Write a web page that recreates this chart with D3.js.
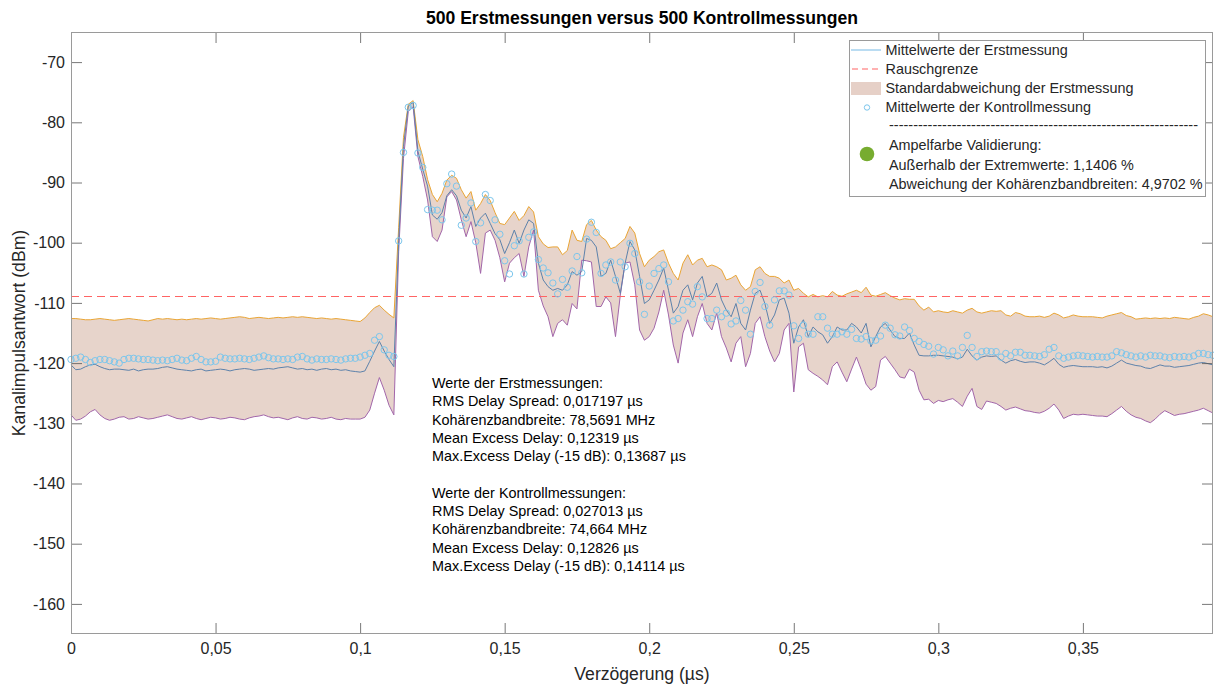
<!DOCTYPE html>
<html><head><meta charset="utf-8">
<script src="https://cdn.jsdelivr.net/npm/d3@7"></script>
<style>
body{margin:0;background:#fff;}
text{font-family:"Liberation Sans",Arial,Helvetica,sans-serif;}
</style>
</head><body>
<svg id="chart" width="1214" height="684"></svg>
<script>
// sample spacing of the delay axis (µs)
const sampleStep = 1/600;
const xDomain = [0, 0.395];
const yDomain = [-165, -65];
const xTicks = [0, 0.05, 0.1, 0.15, 0.2, 0.25, 0.3, 0.35];
const yTicks = [-70, -80, -90, -100, -110, -120, -130, -140, -150, -160];
const noiseFloor = -108.8;

// Mittelwerte der Erstmessung (dBm)
const meanErst = [
-120.3,-121.1,-121.0,-120.6,-120.3,-120.2,-120.6,-120.9,-121.1,-121.0,
-121.0,-121.1,-121.2,-121.0,-121.3,-121.1,-121.0,-121.0,-120.9,-120.7,
-120.6,-120.8,-121.0,-121.1,-121.2,-121.3,-121.1,-121.0,-121.3,-121.2,
-121.1,-121.0,-121.1,-121.3,-121.1,-121.0,-120.9,-121.0,-121.2,-121.1,
-121.0,-120.9,-121.0,-120.8,-120.7,-120.6,-120.8,-121.0,-120.9,-121.1,
-121.0,-121.2,-121.0,-120.9,-121.1,-121.0,-121.2,-121.1,-121.3,-121.4,
-121.5,-121.3,-119.7,-118.0,-116.4,-118.0,-119.4,-120.6,-99.6,-84.0,
-77.3,-76.7,-84.8,-87.8,-90.6,-95.4,-96.1,-95.0,-92.2,-91.2,
-92.2,-94.6,-95.9,-94.0,-97.3,-95.9,-95.1,-96.8,-98.5,-99.5,
-101.8,-100.0,-97.9,-100.1,-97.9,-96.2,-96.8,-103.4,-106.2,-107.3,
-107.9,-107.6,-107.9,-107.0,-104.8,-105.4,-104.8,-99.3,-99.6,-100.7,
-105.6,-105.1,-102.9,-105.6,-108.4,-103.4,-99.8,-101.2,-105.6,-110.1,
-109.5,-107.9,-106.2,-104.2,-107.9,-111.7,-110.6,-107.9,-107.0,-109.5,
-106.7,-105.6,-109.0,-108.4,-106.7,-109.5,-111.2,-112.3,-110.1,-113.4,
-114.5,-111.2,-108.4,-107.9,-110.1,-113.4,-112.0,-109.5,-109.2,-111.7,
-116.7,-114.0,-112.8,-115.6,-114.0,-114.8,-115.3,-116.7,-115.6,-114.0,
-114.5,-114.5,-113.4,-114.0,-115.0,-113.4,-117.3,-115.6,-114.0,-113.4,
-114.5,-115.6,-115.9,-115.9,-115.0,-117.0,-118.7,-118.8,-118.8,-118.7,
-118.7,-118.8,-118.9,-119.0,-119.3,-119.0,-117.7,-118.8,-119.5,-119.0,
-118.8,-118.9,-118.8,-119.5,-120.0,-119.6,-119.4,-119.7,-119.9,-119.8,
-119.8,-120.0,-120.3,-119.8,-119.2,-120.2,-120.7,-120.5,-120.4,-120.5,
-120.6,-120.6,-120.6,-120.7,-120.6,-120.8,-120.5,-120.0,-119.5,-120.0,
-120.2,-120.4,-120.5,-120.8,-120.9,-120.6,-120.3,-120.5,-120.5,-120.7,
-120.6,-120.5,-120.4,-120.2,-120.0,-119.9,-120.1,-120.3
];

// obere Grenze der Standardabweichung (dBm)
const upperStd = [
-112.6,-112.6,-112.7,-112.8,-112.8,-112.7,-112.6,-112.7,-112.8,-112.9,
-112.8,-112.7,-112.6,-112.7,-112.8,-112.9,-113.0,-112.8,-112.6,-112.7,
-112.6,-112.7,-112.8,-112.7,-112.8,-112.7,-112.6,-112.7,-112.6,-112.5,
-112.6,-112.7,-112.6,-112.5,-112.4,-112.3,-112.4,-112.6,-112.5,-112.4,
-112.5,-112.6,-112.5,-112.4,-112.5,-112.4,-112.3,-112.4,-112.3,-112.4,
-112.5,-112.6,-112.5,-112.6,-112.7,-112.6,-112.7,-112.8,-112.9,-113.0,
-113.1,-112.5,-111.6,-110.8,-110.4,-111.2,-111.9,-112.5,-97.5,-82.5,
-77.0,-76.4,-82.9,-85.7,-89.5,-92.0,-93.2,-91.8,-89.6,-88.8,
-89.3,-91.2,-92.6,-91.5,-94.6,-93.5,-92.0,-93.0,-95.0,-96.8,
-97.0,-95.9,-94.8,-96.3,-95.5,-94.0,-94.9,-99.0,-100.2,-100.8,
-100.7,-100.7,-102.0,-101.3,-97.9,-99.6,-99.8,-97.0,-96.3,-97.9,
-99.0,-99.6,-101.0,-100.7,-100.0,-99.3,-97.3,-98.4,-101.8,-104.0,
-102.9,-102.3,-101.5,-101.2,-103.4,-105.1,-106.2,-103.4,-102.0,-103.7,
-102.9,-102.6,-104.0,-103.7,-104.0,-104.5,-106.2,-105.9,-105.4,-107.0,
-107.9,-107.3,-104.5,-104.0,-105.1,-105.6,-105.6,-105.9,-106.7,-106.2,
-107.9,-107.6,-108.4,-109.0,-108.6,-109.0,-108.8,-109.0,-108.1,-108.7,
-108.9,-108.5,-108.2,-107.9,-108.3,-107.4,-108.7,-108.9,-108.6,-108.3,
-108.8,-109.2,-109.5,-109.3,-109.4,-109.4,-110.5,-111.2,-110.7,-111.5,
-111.3,-111.5,-111.6,-111.3,-111.5,-111.7,-111.2,-110.9,-111.5,-111.7,
-111.5,-111.3,-111.4,-111.3,-112.0,-112.2,-111.6,-111.8,-112.2,-112.3,
-112.3,-112.2,-112.4,-112.2,-111.7,-112.0,-112.5,-112.3,-112.0,-112.2,
-112.3,-112.3,-112.3,-112.4,-112.5,-112.2,-112.0,-111.8,-111.6,-112.1,
-112.3,-112.7,-112.6,-112.5,-112.6,-112.5,-112.6,-112.5,-112.6,-112.4,
-112.5,-112.6,-112.7,-112.4,-112.2,-111.8,-112.0,-112.3
];

// untere Grenze der Standardabweichung (dBm)
const lowerStd = [
-128.6,-129.5,-129.3,-128.8,-128.1,-127.7,-128.6,-129.2,-129.5,-129.3,
-129.0,-128.9,-129.3,-129.2,-128.9,-129.1,-129.3,-129.2,-129.0,-128.8,
-128.6,-128.9,-129.2,-129.3,-129.1,-128.9,-129.2,-129.4,-129.2,-129.0,
-129.1,-129.3,-129.2,-129.0,-129.1,-129.3,-129.4,-129.1,-128.9,-128.8,
-128.6,-128.9,-129.1,-129.0,-129.2,-129.4,-129.1,-128.9,-129.2,-129.3,
-129.0,-129.1,-129.3,-129.2,-129.0,-129.3,-129.4,-129.2,-129.3,-129.3,
-129.3,-129.0,-127.8,-125.0,-122.4,-124.5,-127.0,-128.6,-101.5,-86.0,
-78.2,-77.4,-85.7,-89.0,-92.9,-99.0,-99.8,-97.9,-92.4,-91.5,
-92.9,-96.2,-99.0,-96.5,-100.0,-105.1,-98.4,-97.9,-99.6,-102.5,
-106.5,-103.4,-102.5,-101.8,-105.6,-100.7,-97.9,-107.9,-110.5,-112.3,
-115.6,-113.4,-112.8,-113.7,-110.1,-111.0,-102.9,-103.0,-103.2,-110.6,
-110.6,-109.0,-110.0,-115.6,-108.7,-103.4,-103.2,-107.0,-114.5,-116.2,
-115.6,-114.2,-111.5,-107.9,-112.0,-117.0,-120.0,-115.0,-112.8,-115.6,
-112.3,-110.1,-113.4,-114.5,-111.7,-115.6,-117.5,-119.8,-116.7,-115.6,
-120.6,-118.4,-113.4,-112.3,-115.6,-118.0,-119.8,-118.4,-114.5,-113.4,
-124.8,-117.3,-116.7,-121.1,-121.7,-122.2,-122.8,-123.6,-120.6,-119.8,
-121.5,-123.1,-121.0,-119.0,-121.1,-123.5,-124.5,-123.9,-119.5,-118.9,
-120.0,-121.1,-122.3,-122.5,-121.0,-121.5,-124.5,-126.1,-126.0,-126.7,
-126.2,-126.4,-126.1,-125.9,-126.5,-127.2,-125.5,-124.2,-127.2,-127.7,
-126.3,-126.5,-126.7,-127.2,-127.8,-127.5,-127.3,-127.6,-127.9,-128.0,
-128.2,-128.3,-128.0,-127.5,-126.8,-127.8,-129.2,-128.8,-128.5,-128.6,
-128.5,-128.6,-128.7,-128.8,-128.8,-128.9,-128.4,-127.8,-127.2,-128.0,
-128.6,-129.0,-129.2,-129.6,-129.9,-129.3,-128.5,-127.9,-128.3,-128.7,
-128.5,-128.4,-128.2,-128.0,-127.8,-127.5,-127.9,-128.3
];

// Mittelwerte der Kontrollmessung (dBm)
const meanKontroll = [
-119.4,-119.2,-119.0,-119.4,-119.9,-119.6,-119.4,-119.4,-119.6,-119.8,
-120.0,-119.4,-119.2,-119.2,-119.3,-119.4,-119.4,-119.5,-119.6,-119.5,
-119.6,-119.4,-119.2,-119.5,-119.6,-119.2,-118.9,-119.4,-119.8,-119.8,
-119.7,-119.0,-119.2,-119.3,-119.3,-119.2,-119.3,-119.4,-119.2,-119.0,
-118.8,-119.1,-119.3,-119.3,-119.4,-119.3,-119.4,-119.0,-118.9,-119.3,
-119.5,-119.3,-119.4,-119.4,-119.3,-119.4,-119.5,-119.3,-119.2,-119.2,
-119.0,-118.7,-118.4,-116.2,-115.6,-117.8,-118.7,-118.9,-99.7,-85.0,
-77.5,-77.2,-85.1,-87.5,-94.5,-94.6,-94.6,-96.2,-90.2,-88.6,
-90.6,-97.1,-95.9,-93.4,-99.8,-96.7,-92.0,-93.0,-96.2,-98.6,
-103.0,-105.2,-100.5,-99.7,-105.2,-99.1,-98.2,-102.8,-104.2,-105.0,
-106.7,-108.5,-106.1,-107.4,-104.7,-102.3,-105.0,-99.4,-96.6,-98.3,
-105.1,-103.7,-103.2,-106.2,-103.2,-104.0,-100.1,-101.8,-106.5,-111.9,
-107.2,-105.1,-104.3,-103.7,-106.5,-113.0,-112.6,-111.2,-109.8,-110.2,
-107.3,-109.0,-112.6,-112.6,-111.2,-112.3,-111.7,-113.5,-113.0,-109.6,
-111.2,-115.2,-108.1,-106.6,-110.6,-113.7,-109.5,-108.0,-108.0,-108.7,
-113.8,-115.9,-113.7,-115.2,-115.2,-112.3,-112.3,-114.2,-115.2,-115.2,
-114.8,-115.2,-114.4,-115.9,-116.0,-115.6,-116.3,-116.2,-115.5,-113.7,
-114.2,-115.3,-115.5,-114.0,-114.6,-115.9,-116.4,-116.9,-117.2,-118.5,
-117.4,-117.8,-118.8,-118.0,-118.8,-117.4,-115.4,-117.4,-118.9,-118.1,
-118.0,-118.1,-118.1,-119.0,-118.4,-118.8,-118.2,-118.2,-118.7,-118.7,
-118.8,-118.9,-118.6,-117.7,-117.4,-118.8,-119.2,-119.0,-118.8,-118.7,
-118.8,-118.9,-119.0,-118.9,-119.0,-119.0,-118.8,-118.1,-118.3,-118.6,
-118.8,-119.0,-118.8,-119.0,-118.7,-118.8,-118.8,-119.0,-119.1,-118.9,
-119.0,-118.9,-119.0,-118.8,-118.4,-118.4,-118.6,-118.7
];

const legendLabels = ["Mittelwerte der Erstmessung","Rauschgrenze","Standardabweichung der Erstmessung","Mittelwerte der Kontrollmessung"];
const validationLines = ["Ampelfarbe Validierung:","Außerhalb der Extremwerte: 1,1406 %","Abweichung der Kohärenzbandbreiten: 4,9702 %"];
const statsLines = [
"Werte der Erstmessungen:",
"RMS Delay Spread: 0,017197 µs",
"Kohärenzbandbreite: 78,5691 MHz",
"Mean Excess Delay: 0,12319 µs",
"Max.Excess Delay (-15 dB): 0,13687 µs",
"",
"Werte der Kontrollmessungen:",
"RMS Delay Spread: 0,027013 µs",
"Kohärenzbandbreite: 74,664 MHz",
"Mean Excess Delay: 0,12826 µs",
"Max.Excess Delay (-15 dB): 0,14114 µs"
];

const svg = d3.select("#chart");
const L = 71, R = 1213, T = 32, B = 634;
const x = d3.scaleLinear().domain(xDomain).range([L, R]);
const y = d3.scaleLinear().domain(yDomain).range([B, T]);
const tx = (d, i) => x(i * sampleStep);

const cFill = "#e7d4cb", cUpper = "#eaa534", cLower = "#a266aa",
      cMean = "#5d82ab", cCirc = "#7cc6ec", cNoise = "#ff6464", cText = "#262626";

// band
svg.append("path").datum(upperStd)
  .attr("d", d3.area().x(tx).y0((d,i)=>y(lowerStd[i])).y1(d=>y(d)))
  .attr("fill", cFill).attr("stroke", "none");
svg.append("path").datum(upperStd)
  .attr("d", d3.line().x(tx).y(d=>y(d)))
  .attr("fill","none").attr("stroke",cUpper).attr("stroke-width",1);
svg.append("path").datum(lowerStd)
  .attr("d", d3.line().x(tx).y(d=>y(d)))
  .attr("fill","none").attr("stroke",cLower).attr("stroke-width",1);
svg.append("path").datum(meanErst)
  .attr("d", d3.line().x(tx).y(d=>y(d)))
  .attr("fill","none").attr("stroke",cMean).attr("stroke-width",1);
// noise floor
svg.append("line").attr("x1",x(xDomain[0])).attr("x2",x(xDomain[1]))
  .attr("y1",Math.round(y(noiseFloor))+0.5).attr("y2",Math.round(y(noiseFloor))+0.5)
  .attr("stroke",cNoise).attr("stroke-width",1.2).attr("stroke-dasharray","8,5");
// control circles
svg.append("g").selectAll("circle").data(meanKontroll).join("circle")
  .attr("cx", tx).attr("cy", d=>y(d)).attr("r", 3.2)
  .attr("fill","none").attr("stroke",cCirc).attr("stroke-width",1);

// axes
const fmt = d => String(d).replace(".", ",");
function styleAxis(g){
  g.select(".domain").remove();
  g.selectAll(".tick line").attr("stroke","#555").attr("stroke-width",0.8);
  g.selectAll(".tick text").attr("fill",cText).style("font-size","16px")
    .style("font-family",'"Liberation Sans",Arial,Helvetica,sans-serif');
}
svg.append("g").attr("transform",`translate(0,${B})`)
  .call(d3.axisBottom(x).tickValues(xTicks).tickSizeInner(-11).tickSizeOuter(0).tickPadding(9).tickFormat(fmt))
  .call(styleAxis);
svg.append("g").attr("transform",`translate(0,${T})`)
  .call(d3.axisTop(x).tickValues(xTicks).tickSizeInner(-11).tickSizeOuter(0).tickFormat(""))
  .call(styleAxis);
svg.append("g").attr("transform",`translate(${L},0)`)
  .call(d3.axisLeft(y).tickValues(yTicks).tickSizeInner(-11).tickSizeOuter(0).tickPadding(6).tickFormat(fmt))
  .call(styleAxis);
svg.append("g").attr("transform",`translate(${R},0)`)
  .call(d3.axisRight(y).tickValues(yTicks).tickSizeInner(-11).tickSizeOuter(0).tickFormat(""))
  .call(styleAxis);
svg.append("rect").attr("x",L+0.5).attr("y",T+0.5).attr("width",R-L-1).attr("height",B-T-1)
  .attr("fill","none").attr("stroke","#9a9a9a").attr("stroke-width",1);

// titles
svg.append("text").attr("x",(L+R)/2).attr("y",24).attr("text-anchor","middle")
  .attr("fill","#000").style("font-size","17.6px").style("font-weight","bold")
  .text("500 Erstmessungen versus 500 Kontrollmessungen");
svg.append("text").attr("x",(L+R)/2).attr("y",680).attr("text-anchor","middle")
  .attr("fill",cText).style("font-size","17.6px").text("Verzögerung (µs)");
svg.append("text").attr("transform",`translate(25,${(T+B)/2}) rotate(-90)`).attr("text-anchor","middle")
  .attr("fill",cText).style("font-size","17.6px").text("Kanalimpulsantwort (dBm)");

// statistics text
const st = svg.append("text").attr("fill","#000").style("font-size","14.4px");
statsLines.forEach((s,i)=>{
  st.append("tspan").attr("x",432).attr("y",388 + i*18.3).text(s === "" ? "\u00a0" : s);
});

// legend
const lg = svg.append("g");
lg.append("rect").attr("x",849.5).attr("y",40.5).attr("width",356).attr("height",156)
  .attr("fill","#fff").attr("stroke","#9a9a9a").attr("stroke-width",1);
const rowY = [50, 69, 88, 107.5];
lg.append("line").attr("x1",851).attr("x2",881).attr("y1",rowY[0]).attr("y2",rowY[0])
  .attr("stroke","#8cc4ea").attr("stroke-width",1.2);
lg.append("line").attr("x1",852).attr("x2",882).attr("y1",rowY[1]).attr("y2",rowY[1])
  .attr("stroke",cNoise).attr("stroke-width",1.2).attr("stroke-dasharray","6,4");
lg.append("rect").attr("x",851).attr("y",82).attr("width",30).attr("height",13).attr("fill","#e6d0c7");
lg.append("circle").attr("cx",867).attr("cy",rowY[3]).attr("r",2.7)
  .attr("fill","none").attr("stroke",cCirc).attr("stroke-width",1);
legendLabels.forEach((s,i)=>{
  lg.append("text").attr("x",885.5).attr("y",rowY[i]+4.8).attr("fill",cText)
    .style("font-size","14.4px").text(s);
});
lg.append("text").attr("x",889).attr("y",130).attr("fill",cText).style("font-size","14.4px")
  .attr("textLength",309).attr("lengthAdjust","spacingAndGlyphs").text("-".repeat(64));
lg.append("circle").attr("cx",867).attr("cy",154).attr("r",7.3).attr("fill","#77ac30");
validationLines.forEach((s,i)=>{
  lg.append("text").attr("x",889).attr("y",150 + i*19.5).attr("fill",cText)
    .style("font-size","14.4px").text(s);
});
</script>
</body></html>
